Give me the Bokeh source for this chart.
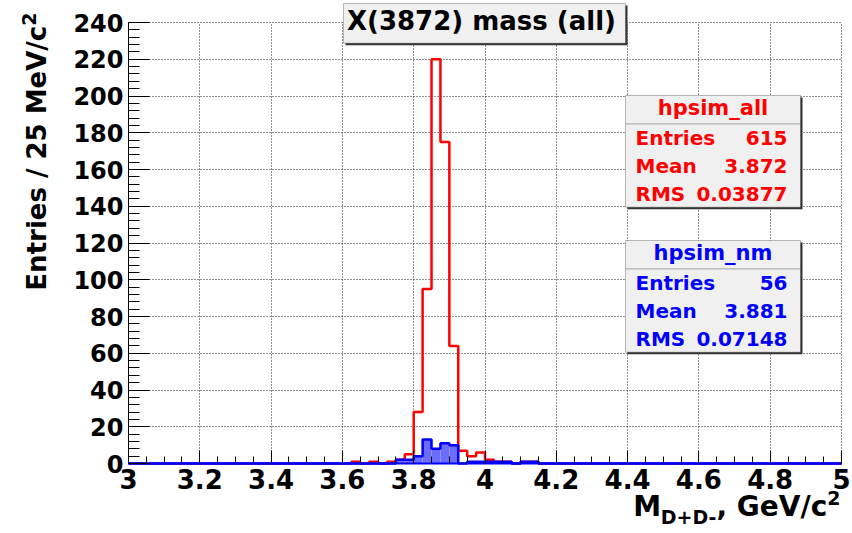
import numpy as np
from bokeh.plotting import figure
from bokeh.models import Label, BoxAnnotation, SingleIntervalTicker, NumeralTickFormatter, Range1d
from bokeh.embed import file_html
from bokeh.resources import INLINE

# ---------------- data ----------------
title_text = "X(3872) mass (all)"
x_start, x_end = 3.0, 5.0
y_start, y_end = 0, 240
bin_width = 0.025

red_bin_low = [3.625, 3.675, 3.725, 3.75, 3.775, 3.8, 3.825, 3.85, 3.875, 3.9,
               3.925, 3.95, 3.975, 4.0, 4.025, 4.05, 4.1, 4.125]
red_counts = [1, 1, 1, 2, 5, 28, 95, 220, 175, 64,
              7, 4, 6, 2, 1, 1, 1, 1]

blue_bin_low = [3.75, 3.775, 3.8, 3.825, 3.85, 3.875, 3.9,
                3.95, 3.975, 4.0, 4.025, 4.05, 4.1, 4.125]
blue_counts = [2, 2, 4, 13, 8, 11, 10,
               1, 1, 1, 1, 1, 1, 1]

red_name = "hpsim_all"
red_stats = [("Entries", "615"), ("Mean", "3.872"), ("RMS", "0.03877")]
blue_name = "hpsim_nm"
blue_stats = [("Entries", "56"), ("Mean", "3.881"), ("RMS", "0.07148")]

y_title = "Entries / 25 MeV/c"
x_title_main = "M"
x_title_sub = "D+D-"
x_title_rest = ", GeV/c"
sup_text = "2"

RED = "#ff0000"
BLUE = "#0000ff"
FONT = "DejaVu Sans"
BASE_FIX = 0.4  # empirical baseline correction (em)

# ---------------- layout (pixels) ----------------
W, H = 852, 533
FL, FR, FT, FB = 128, 841, 22, 463


def px(xp):
    return x_start + (xp - FL) * (x_end - x_start) / (FR - FL)


def py(yp):
    return y_start + (FB - yp) * (y_end - y_start) / (FB - FT)


# DejaVu Sans Bold advance widths (em)
ADV = {'M': 0.995, 'D': 0.830, '+': 0.838, '-': 0.415, ',': 0.380, ' ': 0.348,
       'G': 0.821, 'e': 0.678, 'V': 0.774, '/': 0.365, 'c': 0.593, '2': 0.696}


def tw(s, size):
    return sum(ADV.get(ch, 0.6) for ch in s) * size


n_bins = int(round((x_end - x_start) / bin_width))
edges = x_start + bin_width * np.arange(n_bins + 1)


def fill_hist(lows, vals):
    h = np.zeros(n_bins)
    for lo, v in zip(lows, vals):
        h[int(round((lo - x_start) / bin_width))] = v
    return h


red_h = fill_hist(red_bin_low, red_counts)
blue_h = fill_hist(blue_bin_low, blue_counts)

# the frame covers the whole canvas; axes are pinned at x=3 / y=0
p = figure(width=W, height=H,
           x_range=Range1d(px(0), px(W)), y_range=Range1d(py(H), py(0)),
           output_backend="svg", toolbar_location=None, title_location=None,
           min_border=0)
p.outline_line_color = None
p.background_fill_color = "white"
p.border_fill_color = "white"

xt = SingleIntervalTicker(interval=0.2, num_minor_ticks=4)
yt = SingleIntervalTicker(interval=20, num_minor_ticks=5)
p.xaxis.ticker = xt
p.xgrid.ticker = xt
p.yaxis.ticker = yt
p.ygrid.ticker = yt
p.xaxis.formatter = NumeralTickFormatter(format="0.[0]")
p.xaxis.fixed_location = y_start
p.yaxis.fixed_location = x_start
p.xaxis.bounds = (x_start, x_end)
p.yaxis.bounds = (y_start, y_end)
p.xgrid.bounds = (x_start, x_end)
p.ygrid.bounds = (y_start, y_end)
p.xgrid.cross_bounds = (y_start, y_end)
p.ygrid.cross_bounds = (x_start, x_end)

p.grid.grid_line_color = "#222222"
p.grid.grid_line_dash = "1 2"
p.grid.grid_line_width = 1

for ax, size, tin, tmin in ((p.xaxis, "26px", 13, 7), (p.yaxis, "24px", 21, 11)):
    ax.major_label_text_font = FONT
    ax.major_label_text_font_style = "bold"
    ax.major_label_text_font_size = size
    ax.major_label_text_color = "black"
    ax.major_tick_in = tin
    ax.major_tick_out = 0
    ax.minor_tick_in = tmin
    ax.minor_tick_out = 0
    ax.major_tick_line_color = "black"
    ax.minor_tick_line_color = "black"
p.xaxis.major_label_standoff = 5
p.yaxis.major_label_standoff = 5
p.xaxis.axis_line_color = BLUE
p.xaxis.axis_line_width = 2
p.yaxis.axis_line_color = "black"

# red histogram outline
p.step(x=edges, y=np.append(red_h, red_h[-1]), mode="after",
       line_color=RED, line_width=2.5)

# blue histogram: fill + outline
nz = blue_h > 0
p.quad(left=edges[:-1][nz], right=edges[1:][nz], top=blue_h[nz], bottom=0,
       fill_color="#6c6cff", line_color=None)
p.step(x=edges, y=np.append(blue_h, blue_h[-1]), mode="after",
       line_color=BLUE, line_width=2.5)


def add_box(l, t, r, b, fill="#f0f0f0"):
    p.add_layout(BoxAnnotation(left=px(l + 2), right=px(r + 2), top=py(t + 2), bottom=py(b + 2),
                               fill_color="#333333", fill_alpha=1, line_color=None))
    p.add_layout(BoxAnnotation(left=px(l), right=px(r), top=py(t), bottom=py(b),
                               fill_color=fill, fill_alpha=1, line_color="#222222", line_width=1))


def add_text(xp, yp, text, size, color="black", align="left", angle=0.0):
    s = float(size.replace("px", ""))
    if angle == 0.0:
        yp = yp - BASE_FIX * s
    else:
        xp = xp - BASE_FIX * s
    p.add_layout(Label(x=px(xp), y=py(yp), text=text, text_font=FONT, text_font_style="bold",
                       text_font_size=size, text_color=color, text_align=align,
                       text_baseline="alphabetic", angle=angle))


def stats_box(top, name, stats, color):
    add_box(625, top, 800, top + 111.7)
    p.add_layout(BoxAnnotation(left=px(625), right=px(800), top=py(top + 28.3), bottom=py(top + 28.3),
                               fill_alpha=0, line_color="#222222", line_width=1.2))
    add_text(712.5, top + 21, name, "21px", color, align="center")
    for i, (k, v) in enumerate(stats):
        yb = top + 50 + 28 * i
        add_text(635, yb, k, "20px", color)
        add_text(787, yb, v, "20px", color, align="right")


stats_box(95, red_name, red_stats, RED)
stats_box(240, blue_name, blue_stats, BLUE)

# title box
add_box(343, 3, 625, 42.7)
add_text(481, 31, title_text, "26px", align="center")

# y axis title (rotated, right-aligned at top)
sup_w = tw(sup_text, 19)
add_text(36, 12, sup_text, "19px", align="right", angle=np.pi / 2)
add_text(47, 12 + sup_w, y_title, "26px", align="right", angle=np.pi / 2)

# x axis title (right-aligned at the right end)
xr = 840
add_text(xr, 505, sup_text, "19px", align="right")
xr -= tw(sup_text, 19)
add_text(xr, 517, x_title_rest, "28px", align="right")
xr -= tw(x_title_rest, 28)
add_text(xr, 524, x_title_sub, "19px", align="right")
xr -= tw(x_title_sub, 19)
add_text(xr, 517, x_title_main, "28px", align="right")

open("out.html", "w").write(file_html(p, INLINE))
